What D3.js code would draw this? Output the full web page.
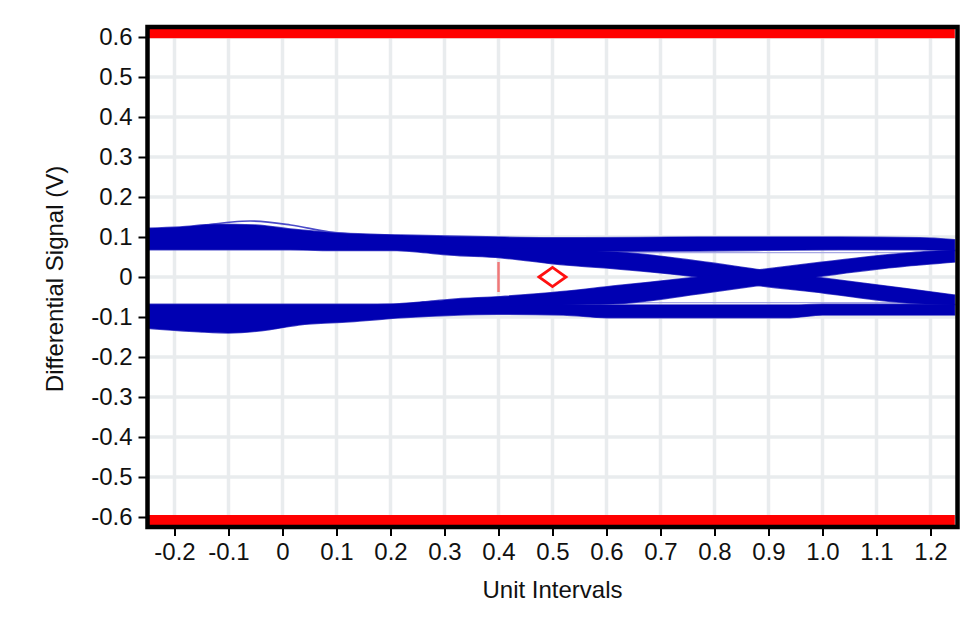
<!DOCTYPE html>
<html>
<head>
<meta charset="utf-8">
<script src="https://cdn.jsdelivr.net/npm/d3@7"></script>
<style>
  body { margin: 0; background: #fff; }
  svg text { font-family: "Liberation Sans", Arial, sans-serif; fill: #111; }
</style>
</head>
<body>
<div id="container"></div>
<script>
// axis set-up
const xDomain = [-0.25, 1.25];
const yDomain = [-0.625, 0.625];
const xTicks = [-0.2, -0.1, 0, 0.1, 0.2, 0.3, 0.4, 0.5, 0.6, 0.7, 0.8, 0.9, 1.0, 1.1, 1.2];
const xTickLabels = ["-0.2", "-0.1", "0", "0.1", "0.2", "0.3", "0.4", "0.5", "0.6", "0.7", "0.8", "0.9", "1.0", "1.1", "1.2"];
const yTicks = [0.6, 0.5, 0.4, 0.3, 0.2, 0.1, 0, -0.1, -0.2, -0.3, -0.4, -0.5, -0.6];
const yTickLabels = ["0.6", "0.5", "0.4", "0.3", "0.2", "0.1", "0", "-0.1", "-0.2", "-0.3", "-0.4", "-0.5", "-0.6"];

// mask limits (red bands)
const maskX = [-0.25, 1.245];
const maskTop = [0.597, 0.621];
const maskBottom = [-0.595, -0.621];

// eye traces: high-high band
const upperX  = [-0.25, -0.19, -0.125, -0.05, 0.015, 0.105, 0.22, 0.4, 0.55, 0.77, 1.03, 1.18, 1.245];
const upperHi = [0.122, 0.125, 0.132, 0.13, 0.12, 0.11, 0.105, 0.1, 0.098, 0.1, 0.1, 0.098, 0.093];
const upperLo = [0.068, 0.068, 0.068, 0.068, 0.068, 0.066, 0.066, 0.064, 0.064, 0.065, 0.068, 0.068, 0.065];

// low-low band
const lowerX  = [-0.25, -0.155, -0.1, -0.025, 0.03, 0.125, 0.22, 0.4, 0.52, 0.6, 0.94, 1.0, 1.245];
const lowerHi = [-0.068, -0.068, -0.068, -0.068, -0.068, -0.068, -0.068, -0.068, -0.068, -0.07, -0.07, -0.068, -0.068];
const lowerLo = [-0.128, -0.137, -0.14, -0.132, -0.12, -0.112, -0.102, -0.093, -0.095, -0.102, -0.102, -0.095, -0.095];

// high-low transition
const descX  = [0.12, 0.2, 0.26, 0.31, 0.403, 0.514, 0.621, 0.769, 0.888, 1.001, 1.156, 1.245];
const descHi = [0.095, 0.092, 0.088, 0.08, 0.0725, 0.0675, 0.0625, 0.04, 0.0175, -0.0025, -0.029, -0.045];
const descLo = [0.071, 0.068, 0.061, 0.055, 0.048, 0.031, 0.02, 0, -0.0225, -0.04, -0.065, -0.07];

// low-high transition
const ascX  = [0.12, 0.2, 0.26, 0.31, 0.403, 0.514, 0.612, 0.769, 0.888, 1.001, 1.156, 1.245];
const ascHi = [-0.071, -0.068, -0.062, -0.056, -0.049, -0.037, -0.0225, 0, 0.019, 0.0375, 0.06, 0.0675];
const ascLo = [-0.095, -0.092, -0.088, -0.08, -0.074, -0.07, -0.0675, -0.0425, -0.02, 0.0025, 0.0275, 0.0375];

// sparse single traces
const ghostTopX = [-0.14, -0.06, 0.015, 0.088, 0.162];
const ghostTopY = [0.13, 0.14, 0.13, 0.1125, 0.105];
const ghostUpX = [0.625, 1.212];
const ghostUpY = [0.061, 0.061];
const ghostLowX = [0.615, 1.2];
const ghostLowY = [-0.064, -0.064];

// markers
const markerX = 0.4;
const markerY = [0.0375, -0.0375];
const diamond = { x: 0.5, y: 0, dx: 0.025, dy: 0.024 };

const width = 979, height = 639;
const plot = { left: 147.5, right: 957.5, top: 27, bottom: 527 };
const blue = "#0000b2";

const svg = d3.select("#container").append("svg")
  .attr("width", width).attr("height", height);

const x = d3.scaleLinear().domain(xDomain).range([plot.left, plot.right]);
const y = d3.scaleLinear().domain(yDomain).range([plot.bottom, plot.top]);

svg.append("clipPath").attr("id", "clip")
  .append("rect")
  .attr("x", plot.left).attr("y", plot.top)
  .attr("width", plot.right - plot.left).attr("height", plot.bottom - plot.top);

const g = svg.append("g").attr("clip-path", "url(#clip)");

// grid
g.selectAll("line.vgrid").data(xTicks).join("line")
  .attr("class", "vgrid")
  .attr("x1", d => x(d)).attr("x2", d => x(d))
  .attr("y1", plot.top).attr("y2", plot.bottom)
  .attr("stroke", "#e9ecee").attr("stroke-width", 3.5);
g.selectAll("line.hgrid").data(yTicks).join("line")
  .attr("class", "hgrid")
  .attr("y1", d => y(d)).attr("y2", d => y(d))
  .attr("x1", plot.left).attr("x2", plot.right)
  .attr("stroke", "#e9ecee").attr("stroke-width", 3.5);

// red mask bands
g.selectAll("rect.mask").data([maskTop, maskBottom]).join("rect")
  .attr("class", "mask")
  .attr("x", x(maskX[0])).attr("width", x(maskX[1]) - x(maskX[0]))
  .attr("y", d => y(d3.max(d))).attr("height", d => Math.abs(y(d[0]) - y(d[1])))
  .attr("fill", "#ff0000");

// thin sparse traces (drawn under the dense bands)
const line = d3.line().x(d => x(d[0])).y(d => y(d[1])).curve(d3.curveMonotoneX);
const ghosts = [
  { pts: ghostTopX.map((v, i) => [v, ghostTopY[i]]), c: "#4a4ac8", w: 1.6 },
  { pts: ghostUpX.map((v, i) => [v, ghostUpY[i]]), c: "#a8a8e4", w: 1.2 },
  { pts: ghostLowX.map((v, i) => [v, ghostLowY[i]]), c: "#a8a8e4", w: 1.2 }
];
g.selectAll("path.ghost").data(ghosts).join("path")
  .attr("class", "ghost")
  .attr("d", d => line(d.pts))
  .attr("fill", "none")
  .attr("stroke", d => d.c)
  .attr("stroke-width", d => d.w);

// eye bands
const zipBand = (xs, hi, lo) => xs.map((v, i) => ({ x: v, hi: hi[i], lo: lo[i] }));
const bands = [
  zipBand(upperX, upperHi, upperLo),
  zipBand(lowerX, lowerHi, lowerLo),
  zipBand(descX, descHi, descLo),
  zipBand(ascX, ascHi, ascLo)
];
const area = d3.area()
  .x(d => x(d.x)).y0(d => y(d.lo)).y1(d => y(d.hi))
  .curve(d3.curveMonotoneX);

// soft rim first, then solid fill on top
g.selectAll("path.rim").data(bands).join("path")
  .attr("class", "rim")
  .attr("d", area)
  .attr("fill", "none")
  .attr("stroke", "#4848c6")
  .attr("stroke-width", 1.4)
  .attr("stroke-linejoin", "round");
g.selectAll("path.band").data(bands).join("path")
  .attr("class", "band")
  .attr("d", area)
  .attr("fill", blue);

// vertical marker + diamond
g.append("line")
  .attr("x1", x(markerX)).attr("x2", x(markerX))
  .attr("y1", y(markerY[0])).attr("y2", y(markerY[1]))
  .attr("stroke", "#f07878").attr("stroke-width", 2.5);

const dPts = [
  [diamond.x - diamond.dx, diamond.y],
  [diamond.x, diamond.y + diamond.dy],
  [diamond.x + diamond.dx, diamond.y],
  [diamond.x, diamond.y - diamond.dy]
];
g.append("path")
  .attr("d", d3.line().x(d => x(d[0])).y(d => y(d[1]))(dPts) + "Z")
  .attr("fill", "#fff")
  .attr("stroke", "#ff1010")
  .attr("stroke-width", 2.8);

// frame
svg.append("rect")
  .attr("x", plot.left).attr("y", plot.top)
  .attr("width", plot.right - plot.left).attr("height", plot.bottom - plot.top)
  .attr("fill", "none").attr("stroke", "#000").attr("stroke-width", 4.5);

// axes
const yAxis = svg.append("g")
  .attr("transform", `translate(${plot.left},0)`)
  .call(d3.axisLeft(y).tickValues(yTicks).tickSize(9).tickPadding(6)
    .tickFormat((d, i) => yTickLabels[i]));
const xAxis = svg.append("g")
  .attr("transform", `translate(0,${plot.bottom})`)
  .call(d3.axisBottom(x).tickValues(xTicks).tickSize(9).tickPadding(7)
    .tickFormat((d, i) => xTickLabels[i]));

[yAxis, xAxis].forEach(a => {
  a.select(".domain").remove();
  a.selectAll(".tick line").attr("stroke", "#000").attr("stroke-width", 2);
  a.selectAll(".tick text")
    .style("font-size", "24px")
    .style("font-family", "'Liberation Sans', Arial, sans-serif")
    .attr("fill", "#111");
});

// axis titles
svg.append("text")
  .attr("x", (plot.left + plot.right) / 2)
  .attr("y", 598)
  .attr("text-anchor", "middle")
  .style("font-size", "24px")
  .text("Unit Intervals");

svg.append("text")
  .attr("transform", "translate(63,279) rotate(-90)")
  .attr("text-anchor", "middle")
  .style("font-size", "24px")
  .text("Differential Signal (V)");
</script>
</body>
</html>
